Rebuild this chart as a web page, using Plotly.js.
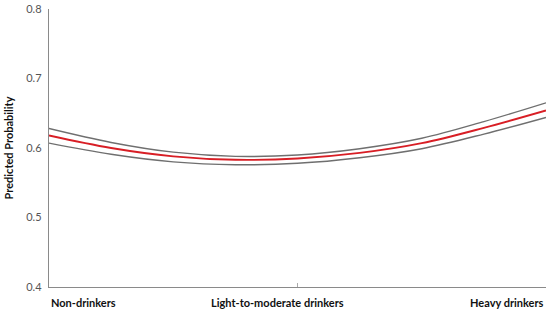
<!DOCTYPE html>
<html>
<head>
<meta charset="utf-8">
<script src="https://cdn.plot.ly/plotly-3.0.1.min.js"></script>
<style>html,body{margin:0;padding:0;background:#fff;}#chart{width:550px;height:313px;}</style>
</head>
<body>
<div id="chart"></div>
<script>
// Position along the drinking scale (0 = non-drinkers, 1 = light-to-moderate, 2 = heavy)
var xPos = [0, 0.25, 0.5, 0.75, 1.0, 1.25, 1.5, 1.75, 2.0];
var predicted = [0.618, 0.600, 0.588, 0.583, 0.585, 0.593, 0.607, 0.629, 0.654];
var upperCI   = [0.628, 0.608, 0.594, 0.588, 0.590, 0.599, 0.614, 0.638, 0.665];
var lowerCI   = [0.607, 0.591, 0.580, 0.576, 0.578, 0.586, 0.599, 0.620, 0.644];
var categoryLabels = ["Non-drinkers", "Light-to-moderate drinkers", "Heavy drinkers"];
var yTicks = [0.4, 0.5, 0.6, 0.7, 0.8];

var grey = "#6f6f6f";
var traces = [
  {x: xPos, y: upperCI, mode: "lines", line: {color: grey, width: 1.4, shape: "spline", smoothing: 1}, hoverinfo: "skip"},
  {x: xPos, y: lowerCI, mode: "lines", line: {color: grey, width: 1.4, shape: "spline", smoothing: 1}, hoverinfo: "skip"},
  {x: xPos, y: predicted, mode: "lines", line: {color: "#d81e25", width: 1.9, shape: "spline", smoothing: 1}, hoverinfo: "skip"}
];

var layout = {
  width: 550, height: 313,
  margin: {l: 49, r: 4, t: 9, b: 26},
  showlegend: false,
  paper_bgcolor: "#fff", plot_bgcolor: "#fff",
  font: {family: "Lato, 'Open Sans', sans-serif"},
  xaxis: {
    range: [0, 2], showgrid: false, zeroline: false,
    showline: true, linecolor: "#8a8a8a", linewidth: 1.2,
    tickmode: "array", tickvals: [1], ticktext: [""],
    ticks: "inside", ticklen: 4, tickcolor: "#aaaaaa", tickwidth: 1
  },
  yaxis: {
    range: [0.4, 0.8], showgrid: false, zeroline: false,
    showline: true, linecolor: "#8a8a8a", linewidth: 1.2,
    tickmode: "array", tickvals: yTicks, ticktext: yTicks.map(function(v){return v.toFixed(1);}),
    ticks: "", ticklabelstandoff: 4,
    tickfont: {size: 11, color: "#555555", family: "Lato, sans-serif"},
    title: {text: "<b>Predicted Probability</b>", font: {size: 11, color: "#111111", family: "Lato, sans-serif"}, standoff: 10}
  },
  annotations: [
    {x: 0, y: 0, xref: "x", yref: "paper", xanchor: "left", yanchor: "top", yshift: -7,
     text: "<b>" + categoryLabels[0] + "</b>", showarrow: false, font: {size: 11, color: "#111"}},
    {x: 0.92, y: 0, xref: "x", yref: "paper", xanchor: "center", yanchor: "top", yshift: -7,
     text: "<b>" + categoryLabels[1] + "</b>", showarrow: false, font: {size: 11, color: "#111"}},
    {x: 2, y: 0, xref: "x", yref: "paper", xanchor: "right", yanchor: "top", yshift: -7,
     text: "<b>" + categoryLabels[2] + "</b>", showarrow: false, font: {size: 11, color: "#111"}}
  ]
};

Plotly.newPlot("chart", traces, layout, {displayModeBar: false, staticPlot: true});
</script>
</body>
</html>
